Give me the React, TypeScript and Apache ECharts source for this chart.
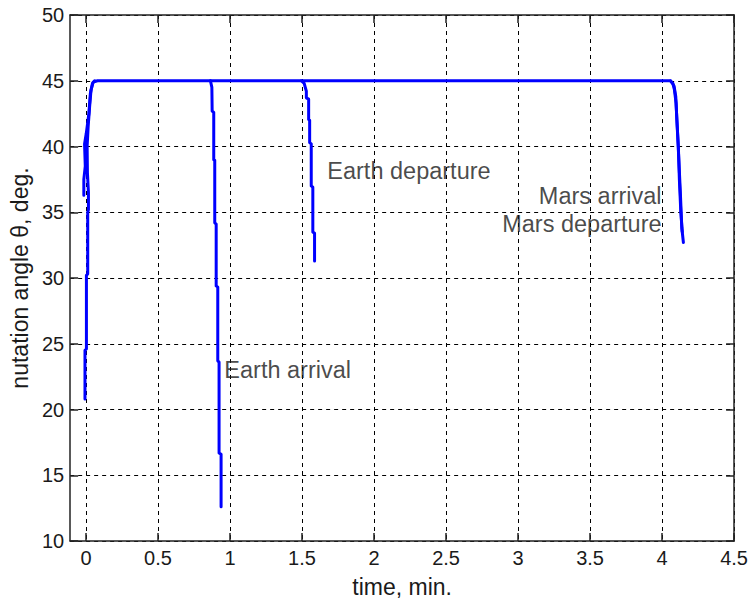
import React, { useEffect, useRef } from 'react';
import * as echarts from 'echarts';

// ---- data ----
const xTickValues = [0, 0.5, 1, 1.5, 2, 2.5, 3, 3.5, 4, 4.5];
const yRange = [10, 50];
const xRange = [-0.11, 4.5];

// main trajectory: initial rise, plateau at 45 deg, Mars arrival drop
const mainTrace: number[][] = [
  [-0.007, 20.8], [-0.007, 24.5], [0.003, 24.6], [0.003, 30.2], [0.012, 30.3],
  [0.012, 35.0], [0.017, 35.2], [0.017, 36.5], [0.01, 38.0], [0.008, 40.0],
  [0.015, 41.5], [0.025, 43.0], [0.035, 44.3], [0.05, 44.9], [0.08, 45.0],
  [4.055, 45.0], [4.075, 44.8], [4.086, 44.3], [4.097, 43.3], [4.105, 41.5],
  [4.115, 39.3], [4.126, 36.7], [4.137, 33.8], [4.148, 32.7],
];
// secondary start trace (oscillation near t = 0)
const startTrace: number[][] = [
  [-0.015, 36.3], [-0.015, 37.5], [-0.005, 38.5], [-0.01, 40.2], [0.002, 41.0],
  [0.02, 42.5], [0.03, 44.0], [0.045, 44.8], [0.06, 45.0],
];
const earthArrival: number[][] = [
  [0.864, 45.0], [0.874, 44.5], [0.876, 42.7], [0.887, 42.6], [0.887, 39.0],
  [0.894, 38.95], [0.894, 34.2], [0.904, 34.1], [0.904, 29.4], [0.915, 29.3],
  [0.915, 23.7], [0.924, 23.6], [0.924, 16.7], [0.938, 16.6], [0.938, 12.6],
];
const earthDeparture: number[][] = [
  [1.495, 45.0], [1.515, 44.8], [1.53, 44.2], [1.53, 43.7], [1.546, 43.6],
  [1.546, 42.05], [1.553, 42.0], [1.553, 40.3], [1.564, 40.2], [1.564, 37.0],
  [1.575, 36.9], [1.575, 33.5], [1.587, 33.4], [1.587, 31.3],
];
const marsDeparture: number[][] = [
  [4.06, 45.0], [4.083, 44.6], [4.095, 43.8], [4.103, 42.0], [4.113, 40.0],
  [4.12, 37.5], [4.13, 35.0], [4.14, 33.5],
];

// annotations (data coordinates)
const leftLabels = [
  [0.957, 23.0, 'Earth arrival'],
  [1.672, 38.1, 'Earth departure'],
];
const rightLabels = [
  [4.0, 36.25, 'Mars arrival'],
  [4.0, 34.1, 'Mars departure'],
];

const FONT = '"Liberation Sans", Arial, sans-serif';
const LINE_COLOR = '#0000ff';
const AXIS_COLOR = '#222';
const TEXT_COLOR = '#1a1a1a';

function lineSeries(data: number[][]) {
  return {
    type: 'line',
    data,
    showSymbol: false,
    symbol: 'none',
    lineStyle: { color: LINE_COLOR, width: 3, join: 'round', cap: 'round' },
    silent: true,
    z: 5,
  };
}

function labelSeries(data: (number | string)[][], position: 'left' | 'right') {
  return {
    type: 'scatter',
    data,
    symbolSize: 1,
    itemStyle: { color: 'rgba(0,0,0,0)' },
    silent: true,
    z: 10,
    label: {
      show: true,
      position,
      distance: 0,
      formatter: (p: any) => p.data[2],
      fontSize: 23.5,
      fontFamily: FONT,
      color: TEXT_COLOR,
    },
  };
}

export default function App() {
  const ref = useRef<HTMLDivElement>(null);
  useEffect(() => {
    const chart = echarts.init(ref.current!, null, { renderer: 'svg' });
    const axisLine = { show: true, lineStyle: { color: AXIS_COLOR, width: 1.5 } };
    const gridLine = { show: true, lineStyle: { color: '#000', width: 1, type: [4, 4] } };
    chart.setOption({
      animation: false,
      backgroundColor: '#ffffff',
      grid: { left: 68, top: 15, right: 12.5, bottom: 60, containLabel: false },
      xAxis: [
        {
          type: 'value',
          position: 'bottom',
          min: xRange[0],
          max: xRange[1],
          axisLine: { ...axisLine, onZero: false },
          axisTick: { show: true, inside: true, length: 8, customValues: xTickValues, lineStyle: { color: AXIS_COLOR, width: 1.5 } },
          axisLabel: { customValues: xTickValues, fontSize: 20, fontFamily: FONT, color: TEXT_COLOR, margin: 7, showMinLabel: true, showMaxLabel: true },
          splitLine: gridLine,
          name: 'time, min.',
          nameLocation: 'middle',
          nameGap: 34,
          nameTextStyle: { fontSize: 23, fontFamily: FONT, color: TEXT_COLOR },
        },
        {
          type: 'value',
          position: 'top',
          min: xRange[0],
          max: xRange[1],
          axisLine: { ...axisLine, onZero: false },
          axisTick: { show: true, inside: true, length: 8, customValues: xTickValues, lineStyle: { color: AXIS_COLOR, width: 1.5 } },
          axisLabel: { show: false },
          splitLine: { show: false },
        },
      ],
      yAxis: [
        {
          type: 'value',
          position: 'left',
          min: yRange[0],
          max: yRange[1],
          interval: 5,
          axisLine: { ...axisLine, onZero: false },
          axisTick: { show: true, inside: true, length: 8, lineStyle: { color: AXIS_COLOR, width: 1.5 } },
          axisLabel: { fontSize: 20, fontFamily: FONT, color: TEXT_COLOR, margin: 6 },
          splitLine: gridLine,
          name: 'nutation angle θ, deg.',
          nameLocation: 'middle',
          nameGap: 33,
          nameRotate: 90,
          nameTextStyle: { fontSize: 23, fontFamily: FONT, color: TEXT_COLOR },
        },
        {
          type: 'value',
          position: 'right',
          min: yRange[0],
          max: yRange[1],
          interval: 5,
          axisLine: { ...axisLine, onZero: false },
          axisTick: { show: true, inside: true, length: 8, lineStyle: { color: AXIS_COLOR, width: 1.5 } },
          axisLabel: { show: false },
          splitLine: { show: false },
        },
      ],
      series: [
        lineSeries(startTrace),
        lineSeries(mainTrace),
        lineSeries(earthArrival),
        lineSeries(earthDeparture),
        lineSeries(marsDeparture),
        labelSeries(leftLabels, 'right'),
        labelSeries(rightLabels, 'left'),
      ],
    });
    return () => chart.dispose();
  }, []);
  return (
    <div
      ref={ref}
      style={{ position: 'fixed', left: 0, top: 0, width: 751, height: 603, background: '#fff' }}
    />
  );
}
